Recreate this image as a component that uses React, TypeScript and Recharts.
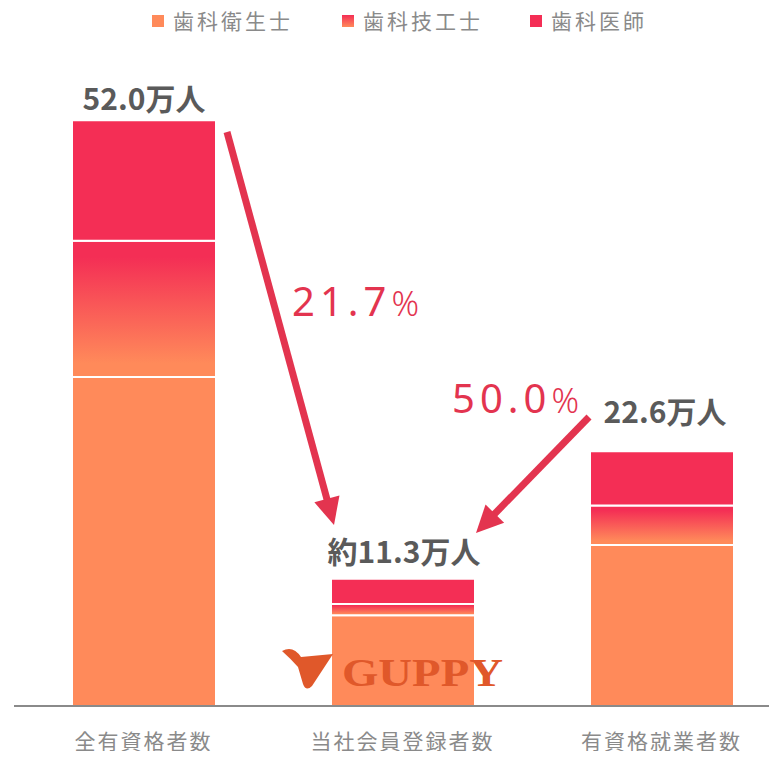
import { BarChart, Bar, XAxis, YAxis, LabelList } from 'recharts';

const categories = ['全有資格者数', '当社会員登録者数', '有資格就業者数'];
const hygienists = [29.2, 8.05, 14.3];
const technicians = [12.1, 1.0, 3.5];
const dentists = [10.7, 2.25, 4.8];
const totalLabels = ['52.0万人', '約11.3万人', '22.6万人'];
const legendNames = ['歯科衛生士', '歯科技工士', '歯科医師'];

const ORANGE = '#FF8A5A';
const RED = '#F42E55';
const ARROW = '#E3344F';
const FONT = "'Noto Sans CJK JP', 'Noto Sans', sans-serif";

// gap between label baseline and bar top, per bar
const labelGap = [10, 16, 28];
const labelShift = [0, 1, 3];

const data = categories.map((name, i) => ({
  name,
  hygienists: hygienists[i],
  technicians: technicians[i],
  dentists: dentists[i],
  label: totalLabels[i],
}));

function TotalLabel(props: any) {
  const { x, y, width, index } = props;
  return (
    <text
      x={x + width / 2 + labelShift[index]}
      y={y - labelGap[index]}
      textAnchor="middle"
      fill="#5a5a5a"
      fontSize={30}
      fontWeight={700}
      fontFamily={FONT}
    >
      {totalLabels[index]}
    </text>
  );
}

function CategoryTick(props: any) {
  const { x, y, payload } = props;
  return (
    <text
      x={x}
      y={y + 35}
      textAnchor="middle"
      fill="#8a8a8a"
      fontSize={21}
      letterSpacing={2}
      fontFamily={FONT}
    >
      {payload.value}
    </text>
  );
}

function Arrow({ x1, y1, x2, y2 }: { x1: number; y1: number; x2: number; y2: number }) {
  const dx = x2 - x1;
  const dy = y2 - y1;
  const len = Math.sqrt(dx * dx + dy * dy);
  const ux = dx / len;
  const uy = dy / len;
  const headLen = 27;
  const headHalf = 13;
  const bx = x2 - ux * headLen;
  const by = y2 - uy * headLen;
  const pts = [
    `${x2},${y2}`,
    `${bx - uy * headHalf},${by + ux * headHalf}`,
    `${bx + uy * headHalf},${by - ux * headHalf}`,
  ].join(' ');
  return (
    <g>
      <line x1={x1} y1={y1} x2={bx + ux * 4} y2={by + uy * 4} stroke={ARROW} strokeWidth={7} />
      <polygon points={pts} fill={ARROW} />
    </g>
  );
}

// overlay drawn above the chart: legend, arrows, rates and logo
function Overlay() {
  const legendX = [152, 342, 530];
  return (
    <svg
      width={777}
      height={759}
      style={{ position: 'absolute', left: 0, top: 0, pointerEvents: 'none' }}
    >
      <defs>
        <linearGradient id="legendGrad" x1="0" y1="0" x2="0" y2="1">
          <stop offset="0%" stopColor={RED} />
          <stop offset="100%" stopColor={ORANGE} />
        </linearGradient>
      </defs>
      {legendNames.map((n, i) => (
        <g key={n}>
          <rect
            x={legendX[i]}
            y={15}
            width={12}
            height={12}
            fill={i === 0 ? ORANGE : i === 1 ? 'url(#legendGrad)' : RED}
          />
          <text
            x={legendX[i] + 21}
            y={29}
            fill="#8a8a8a"
            fontSize={21}
            letterSpacing={3}
            fontFamily={FONT}
          >
            {n}
          </text>
        </g>
      ))}
      <Arrow x1={227} y1={132} x2={334} y2={525} />
      <Arrow x1={589} y1={417} x2={476} y2={533} />
      <text x={292} y={316} fill={ARROW} fontSize={40} letterSpacing={5} fontFamily="'Noto Sans', sans-serif">
        21.7<tspan fontSize={34} fontWeight={300}>%</tspan>
      </text>
      <text x={452} y={413} fill={ARROW} fontSize={40} letterSpacing={5} fontFamily="'Noto Sans', sans-serif">
        50.0<tspan fontSize={34} fontWeight={300}>%</tspan>
      </text>
      <g fill="#E0582A">
        <path d="M282,651 Q293,645 301,657 L333,654 L312,686 Q306,692 303,684 L298,667 Q291,659 282,651 Z" />
        <text
          x={342}
          y={686}
          fontSize={39}
          fontWeight={700}
          fontFamily="'Liberation Serif', serif"
          textLength={161}
          lengthAdjust="spacingAndGlyphs"
        >
          GUPPY
        </text>
      </g>
    </svg>
  );
}

export default function App() {
  return (
    <div
      style={{
        position: 'relative',
        width: 777,
        height: 759,
        overflow: 'hidden',
        margin: -8,
        background: '#fff',
      }}
    >
      <BarChart
        width={791}
        height={759}
        data={data}
        margin={{ top: 30, right: 0, left: 14, bottom: 0 }}
        barSize={144}
      >
        <defs>
          <linearGradient id="techGrad" x1="0" y1="0" x2="0" y2="1">
            <stop offset="0%" stopColor={RED} />
            <stop offset="12%" stopColor={RED} />
            <stop offset="90%" stopColor={ORANGE} />
            <stop offset="100%" stopColor={ORANGE} />
          </linearGradient>
        </defs>
        <XAxis
          dataKey="name"
          height={53}
          axisLine={{ stroke: '#8a8a8a', strokeWidth: 2 }}
          tickLine={false}
          tick={<CategoryTick />}
          interval={0}
        />
        <YAxis hide domain={[0, 60]} />
        <Bar dataKey="hygienists" stackId="a" fill={ORANGE} stroke="#fff" strokeWidth={2} isAnimationActive={false} />
        <Bar dataKey="technicians" stackId="a" fill="url(#techGrad)" stroke="#fff" strokeWidth={2} isAnimationActive={false} />
        <Bar dataKey="dentists" stackId="a" fill={RED} stroke="#fff" strokeWidth={2} isAnimationActive={false}>
          <LabelList dataKey="label" content={<TotalLabel />} />
        </Bar>
      </BarChart>
      <Overlay />
    </div>
  );
}
